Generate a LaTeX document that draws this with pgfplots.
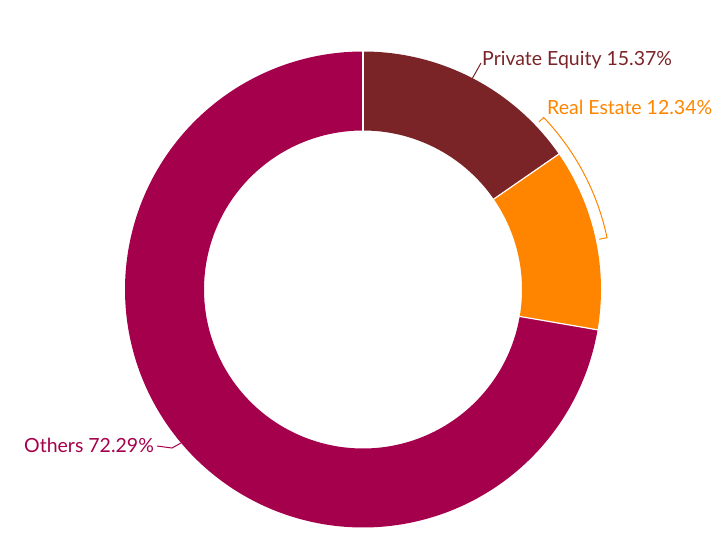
\documentclass[border=0pt]{standalone}
\usepackage{pgfplots}
\pgfplotsset{compat=1.18}
\usepackage{pgfplotstable}
\usepackage{fontspec}
\setmainfont{Lato}
\definecolor{pe}{HTML}{7B2428}
\definecolor{re}{HTML}{FF8500}
\definecolor{ot}{HTML}{A5004C}
\pgfplotstableread{
name value
PE 15.37
RE 12.34
OT 72.29
}\shares
\pgfplotstablegetelem{0}{value}\of\shares \let\vA\pgfplotsretval
\pgfplotstablegetelem{1}{value}\of\shares \let\vB\pgfplotsretval
\pgfplotstablegetelem{2}{value}\of\shares \let\vC\pgfplotsretval
\pgfmathsetmacro\aA{90}
\pgfmathsetmacro\aB{\aA-3.6*\vA}
\pgfmathsetmacro\aC{\aB-3.6*\vB}
\pgfmathsetmacro\aD{\aC-3.6*\vC}
\def\cx{363}\def\cy{269.5}\def\rmid{198.5}
\begin{document}
\begin{tikzpicture}
\begin{axis}[width=727pt,height=559pt,scale only axis,xmin=0,xmax=727,ymin=0,ymax=559,hide axis,clip=false]
\path (axis cs:0,0) rectangle (axis cs:727,559);
\addplot[draw=pe,line width=79pt,domain=\aB:\aA,samples=60] ({\cx+\rmid*cos(x)},{\cy+\rmid*sin(x)});
\addplot[draw=re,line width=79pt,domain=\aC:\aB,samples=60] ({\cx+\rmid*cos(x)},{\cy+\rmid*sin(x)});
\addplot[draw=ot,line width=79pt,domain=\aD:\aC,samples=240] ({\cx+\rmid*cos(x)},{\cy+\rmid*sin(x)});
\draw[white,line width=1.2pt] (axis cs:\cx,\cy) ++(\aA:157pt) -- ++(\aA:83pt);
\draw[white,line width=1.2pt] (axis cs:\cx,\cy) ++(\aB:157pt) -- ++(\aB:83pt);
\draw[white,line width=1.2pt] (axis cs:\cx,\cy) ++(\aC:157pt) -- ++(\aC:83pt);
% leader lines
\draw[pe,line width=1pt] (axis cs:472,480) -- (axis cs:481,496);
\draw[re,line width=1pt] (axis cs:\cx,\cy) ++(43.6:243pt) -- ++(43.6:6.5pt) arc[start angle=43.6,end angle=12,radius=249.5pt] -- ++(192:8pt);
\draw[ot,line width=1pt] (axis cs:181,116) -- (axis cs:172,111) -- (axis cs:157,113);
% labels
\node[anchor=base west,inner sep=0pt,text=pe,font=\fontsize{19.5}{22}\selectfont] at (axis cs:482,493) {Private Equity 15.37\%};
\node[anchor=base west,inner sep=0pt,text=re,font=\fontsize{19.5}{22}\selectfont] at (axis cs:547,444) {Real Estate 12.34\%};
\node[anchor=base west,inner sep=0pt,text=ot,font=\fontsize{19.5}{22}\selectfont] at (axis cs:24,106) {Others 72.29\%};
\end{axis}
\end{tikzpicture}
\end{document}
